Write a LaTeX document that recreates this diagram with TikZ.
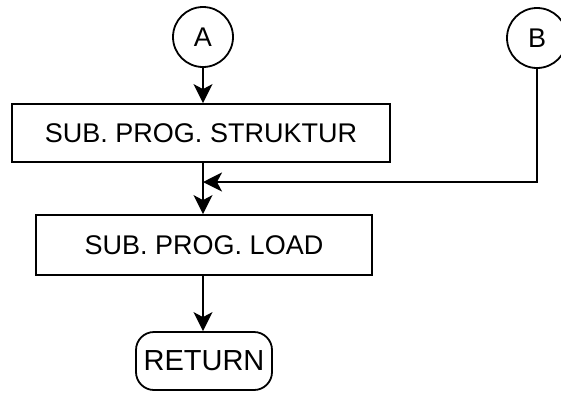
\documentclass[tikz,border=0pt]{standalone}
\usepackage{fontspec}
\setmainfont{Liberation Sans}
\usetikzlibrary{arrows.meta}
\begin{document}
\begin{tikzpicture}[x=1pt,y=-1pt,
  line width=1.8pt,
  lbl/.style={font=\fontsize{27}{30}\selectfont},
  proc/.style={draw, rectangle, inner sep=0pt, lbl},
  conn/.style={draw, circle, inner sep=0pt, minimum size=60pt, lbl},
  term/.style={draw, rectangle, rounded corners=18pt, inner sep=0pt,
               font=\fontsize{29}{32}\selectfont},
  flow/.style={-{Stealth[length=19pt,width=19pt,inset=5pt]}}]
\useasboundingbox (0,0) rectangle (561,392);

% connectors and process boxes
\node[conn] (A) at (203,37) {A};
\node[conn] (B) at (537,38) {B};
\node[proc, minimum width=378pt, minimum height=58pt] (s1) at (201,133) {SUB. PROG. STRUKTUR};
\node[proc, minimum width=336pt, minimum height=60pt] (s2) at (204,245) {SUB. PROG. LOAD};
\node[term, minimum width=136pt, minimum height=58pt] (ret) at (204,361) {RETURN};

% junction where the B branch meets the main flow
\coordinate (j) at (A.south |- 0,182);

\draw[flow] (A.south) -- (A.south |- s1.north);
\draw (A.south |- s1.south) -- (j);
\draw[flow] (j) -- (j |- s2.north);
\draw[flow] (B.south) -- (B.south |- j) -- (j);
\draw[flow] (j |- s2.south) -- (j |- ret.north);
\end{tikzpicture}
\end{document}
